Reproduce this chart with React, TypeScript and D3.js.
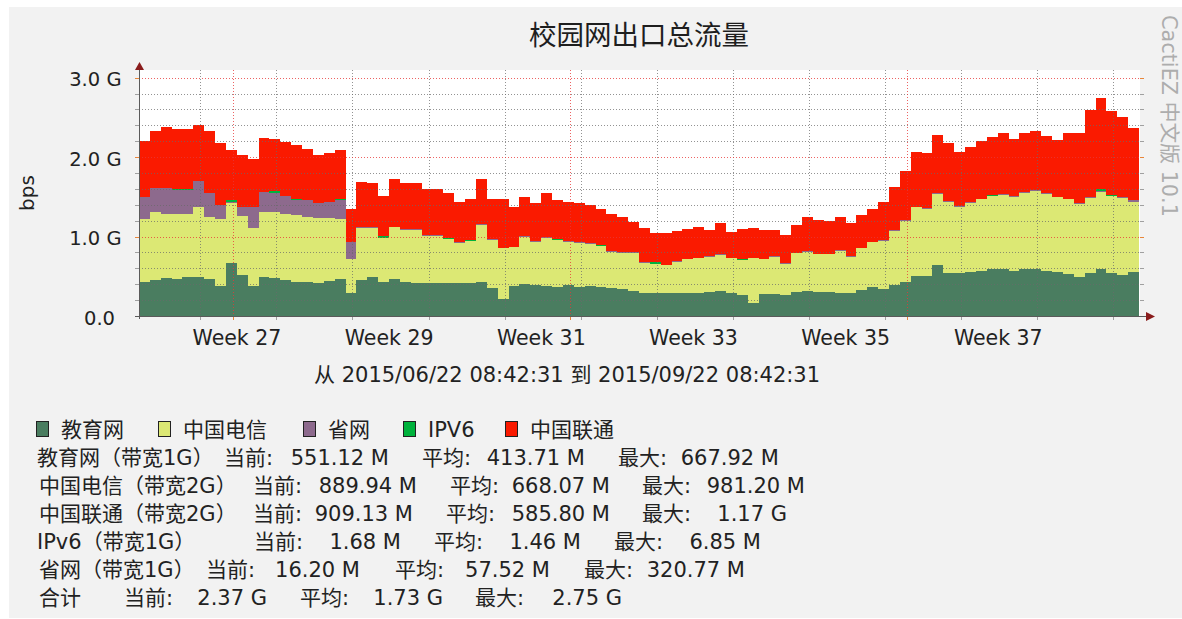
import React from 'react'
import * as d3 from 'd3'

// time window of the graph
const startTime = new Date(2015, 5, 22, 8, 42, 31)
const endTime = new Date(2015, 8, 22, 8, 42, 31)

const seriesNames = ['教育网', '中国电信', '省网', 'IPV6', '中国联通']
const seriesColors = ['#4a7d60', '#dce874', '#8d6a8d', '#00b23c', '#fa1a00']

// daily averages in Mbps, one value per day from the start time
const eduValues = [
  431, 452, 473, 465, 486, 486, 465, 381, 668, 515,
  381, 486, 473, 452, 431, 431, 419, 440, 461, 285,
  452, 486, 431, 461, 431, 411, 411, 411, 411, 411,
  411, 431, 348, 210, 381, 402, 390, 377, 369, 385,
  369, 377, 369, 348, 335, 318, 285, 285, 285, 285,
  285, 285, 297, 314, 285, 264, 168, 277, 272, 260,
  297, 310, 306, 306, 285, 293, 327, 360, 344, 390,
  431, 507, 507, 641, 536, 536, 557, 570, 587, 587,
  566, 587, 587, 566, 549, 524, 494, 536, 590, 536,
  515, 551,
]
const telecomValues = [
  784, 859, 817, 817, 796, 888, 784, 834, 754, 742,
  721, 825, 838, 838, 838, 817, 813, 792, 754, 432,
  662, 628, 545, 654, 649, 670, 595, 595, 557, 511,
  532, 712, 608, 641, 482, 595, 545, 608, 587, 549,
  553, 528, 511, 461, 461, 478, 385, 369, 356, 398,
  427, 440, 448, 452, 440, 440, 557, 436, 473, 394,
  490, 499, 469, 469, 536, 453, 524, 566, 603, 683,
  767, 859, 846, 901, 901, 838, 867, 897, 922, 934,
  934, 964, 981, 970, 943, 943, 922, 955, 975, 972,
  976, 890,
]
const provinceValues = [
  285, 302, 320, 310, 310, 321, 302, 180, 8, 117,
  272, 251, 239, 218, 197, 209, 193, 205, 251, 218,
  10, 8, 6, 8, 12, 12, 8, 8, 7, 6,
  7, 9, 8, 7, 9, 10, 8, 7, 6, 7,
  8, 9, 7, 6, 7, 8, 6, 5, 6, 7,
  8, 6, 7, 9, 8, 7, 6, 7, 8, 12,
  8, 7, 6, 7, 9, 8, 7, 8, 9, 8,
  7, 8, 7, 9, 8, 9, 8, 7, 8, 9,
  8, 9, 12, 8, 7, 8, 9, 10, 10, 9,
  9, 16.2,
]
const ipv6Values = [
  1.3, 1.2, 1.1, 1.2, 1.3, 1.2, 1.1, 1.4, 6.85, 1.3,
  1.2, 1.1, 5.2, 1.2, 1.3, 1.2, 1.1, 1.2, 1.3, 1.0,
  1.2, 1.1, 5.0, 1.2, 1.3, 1.2, 1.1, 1.2, 1.3, 1.2,
  1.1, 1.2, 1.3, 1.0, 1.2, 1.1, 1.2, 1.3, 1.2, 1.1,
  1.2, 1.3, 1.2, 1.1, 1.2, 1.0, 1.3, 5.5, 1.2, 1.1,
  1.2, 1.3, 1.2, 1.1, 1.2, 1.3, 1.0, 1.2, 1.1, 1.3,
  1.2, 1.1, 1.2, 1.3, 1.2, 1.1, 1.2, 1.3, 1.2, 1.1,
  1.2, 1.3, 1.2, 1.1, 1.2, 1.3, 1.2, 1.1, 1.2, 1.3,
  1.2, 1.1, 1.3, 1.2, 1.1, 1.2, 1.3, 1.2, 5.8, 1.2,
  1.3, 1.68,
]
const unicomValues = [
  700, 712, 767, 758, 758, 704, 775, 784, 655, 650,
  599, 683, 670, 683, 691, 649, 599, 616, 628, 411,
  564, 545, 528, 595, 575, 575, 579, 579, 566, 507,
  516, 566, 503, 608, 503, 486, 482, 549, 503, 495,
  495, 482, 453, 465, 444, 382, 436, 386, 398, 382,
  369, 382, 327, 390, 327, 377, 382, 361, 327, 357,
  348, 432, 424, 415, 411, 411, 411, 407, 482, 537,
  616, 692, 692, 725, 734, 683, 696, 725, 729, 767,
  725, 738, 742, 717, 721, 822, 872, 1090, 1165, 1065,
  1006, 909,
]

const yTickValues = [0, 1000, 2000, 3000]
const yTickLabels = ['0.0', '1.0 G', '2.0 G', '3.0 G']
const weekLabels = ['Week 27', 'Week 29', 'Week 31', 'Week 33', 'Week 35', 'Week 37']
const weekLabelDates = [
  '2015-07-01 09:00', '2015-07-15 09:00', '2015-07-29 09:00',
  '2015-08-12 09:00', '2015-08-26 09:00', '2015-09-09 10:00',
]

// legend statistics, as printed under the graph
const statNames = ['教育网（带宽1G）', '中国电信（带宽2G）', '中国联通（带宽2G）', 'IPv6（带宽1G）', '省网（带宽1G）', '合计']
const statCurrent = ['551.12 M', '889.94 M', '909.13 M', '1.68 M', '16.20 M', '2.37 G']
const statAverage = ['413.71 M', '668.07 M', '585.80 M', '1.46 M', '57.52 M', '1.73 G']
const statMaximum = ['667.92 M', '981.20 M', '1.17 G', '6.85 M', '320.77 M', '2.75 G']

// legend text layout (x positions of every column, per row)
const rowNameX = [37, 39, 39, 37, 39, 39]
const curLabelX = [224, 253, 253, 254, 206, 124]
const curEndX = [389, 417, 413, 401, 360, 267]
const avgLabelX = [422, 450, 446, 434, 395, 300]
const avgEndX = [585, 610, 610, 581, 550, 443]
const maxLabelX = [618, 642, 642, 614, 584, 475]
const maxEndX = [779, 805, 787, 761, 745, 622]
const swatchX = [36, 158, 303, 403, 505]

const W = 1182
const H = 619
const plot = { left: 139, right: 1139, top: 70, bottom: 316, topValue: 77.7 }
const FONT = "'DejaVu Sans', 'Noto Sans CJK SC', sans-serif"
const DAY = 86400000

type Row = { date: Date; edu: number; telecom: number; province: number; ipv6: number; unicom: number }
const keys = ['edu', 'telecom', 'province', 'ipv6', 'unicom'] as const

const App: React.FC = () => {
  const x = d3.scaleTime().domain([startTime, endTime]).range([plot.left, plot.right])
  const y = d3.scaleLinear().domain([0, 3000]).range([plot.bottom, plot.topValue])

  const rows: Row[] = eduValues.map((v, i) => ({
    date: new Date(startTime.getTime() + i * DAY),
    edu: v,
    telecom: telecomValues[i],
    province: provinceValues[i],
    ipv6: ipv6Values[i],
    unicom: unicomValues[i],
  }))
  // closing point so the last step reaches the end of the window
  rows.push({ ...rows[rows.length - 1], date: endTime })

  const stacked = d3.stack<Row>().keys(keys as unknown as string[])(rows)
  const area = d3
    .area<d3.SeriesPoint<Row>>()
    .x((d) => x(d.data.date))
    .y0((d) => y(d[0]))
    .y1((d) => y(d[1]))
    .curve(d3.curveStepAfter)

  const crisp = (v: number) => Math.round(v) + 0.5

  const gridValues = d3.range(200, 3001, 200)
  const minorY = gridValues.filter((v) => v % 1000 !== 0)
  const majorY = gridValues.filter((v) => v % 1000 === 0)
  const weekLines = d3.timeSunday.range(startTime, endTime)
  const monthLines = d3.timeMonth.range(startTime, endTime)
  const parseLabel = d3.timeParse('%Y-%m-%d %H:%M')
  const fmt = d3.timeFormat('%Y/%m/%d %H:%M:%S')

  const minorColor = 'rgba(105,105,105,0.72)'
  const majorColor = 'rgba(232,55,55,0.78)'
  const tickMinor = '#a0a0a0'
  const tickMajor = '#e8863a'

  const ipv6Layer = stacked[3]

  return (
    <svg
      width={W}
      height={H}
      style={{ position: 'absolute', left: 0, top: 0, display: 'block' }}
      fontFamily={FONT}
    >
      <rect width={W} height={H} fill="#ffffff" />
      <rect x={9} y={7} width={W - 9} height={611} fill="#f2f2f2" />

      {/* title */}
      <text x={639} y={45} fontSize={27.5} textAnchor="middle" fill="#1e1e1e">
        校园网出口总流量
      </text>

      {/* watermark */}
      <text
        transform="translate(1162,15) rotate(90)"
        fontSize={20.8}
        fill="#adadad"
      >
        CactiEZ 中文版 10.1
      </text>

      {/* canvas */}
      <rect
        x={plot.left}
        y={plot.top}
        width={plot.right - plot.left + 1}
        height={plot.bottom - plot.top}
        fill="#ffffff"
      />

      {/* stacked areas */}
      <g shapeRendering="crispEdges">
        {stacked.map((layer, i) => (
          <path key={layer.key} d={area(layer) || ''} fill={seriesColors[i]} />
        ))}
        {ipv6Layer.slice(0, -1).map((d, i) =>
          ipv6Values[i] > 4 ? (
            <rect
              key={i}
              x={x(d.data.date)}
              y={y(d[1]) - 1.5}
              width={x(rows[i + 1].date) - x(d.data.date)}
              height={2}
              fill={seriesColors[3]}
            />
          ) : null,
        )}
      </g>

      {/* grid */}
      <g shapeRendering="crispEdges" strokeWidth={1} strokeDasharray="1,2">
        {minorY.map((v) => (
          <line key={'hy' + v} x1={plot.left} x2={plot.right + 4} y1={crisp(y(v))} y2={crisp(y(v))} stroke={minorColor} />
        ))}
        {weekLines.map((d) => (
          <line key={'vw' + d.getTime()} x1={crisp(x(d))} x2={crisp(x(d))} y1={plot.top} y2={plot.bottom} stroke={minorColor} />
        ))}
        {majorY.map((v) => (
          <line key={'my' + v} x1={plot.left} x2={plot.right + 4} y1={crisp(y(v))} y2={crisp(y(v))} stroke={majorColor} />
        ))}
        {monthLines.map((d) => (
          <line key={'vm' + d.getTime()} x1={crisp(x(d))} x2={crisp(x(d))} y1={plot.top} y2={plot.bottom} stroke={majorColor} />
        ))}
      </g>

      {/* tick marks */}
      <g shapeRendering="crispEdges" strokeWidth={1}>
        {gridValues.map((v) => (
          <g key={'ty' + v} stroke={v % 1000 === 0 ? tickMajor : tickMinor}>
            <line x1={plot.left - 4} x2={plot.left} y1={crisp(y(v))} y2={crisp(y(v))} />
            <line x1={plot.right + 1} x2={plot.right + 5} y1={crisp(y(v))} y2={crisp(y(v))} />
          </g>
        ))}
        {weekLines.map((d) => (
          <line key={'tw' + d.getTime()} x1={crisp(x(d))} x2={crisp(x(d))} y1={plot.bottom} y2={plot.bottom + 4} stroke={tickMinor} />
        ))}
        {monthLines.map((d) => (
          <line key={'tm' + d.getTime()} x1={crisp(x(d))} x2={crisp(x(d))} y1={plot.bottom} y2={plot.bottom + 4} stroke={tickMajor} />
        ))}
      </g>

      {/* axes */}
      <g shapeRendering="crispEdges" stroke="#5a5a5a" strokeWidth={1}>
        <line x1={plot.left + 0.5} x2={plot.left + 0.5} y1={plot.top - 2} y2={plot.bottom + 3} />
        <line x1={plot.left - 4} x2={plot.right + 8} y1={plot.bottom + 0.5} y2={plot.bottom + 0.5} />
      </g>
      <polygon
        points={`${plot.left + 0.5},${plot.top - 8} ${plot.left - 4},${plot.top} ${plot.left + 5},${plot.top}`}
        fill="#8a1c1c"
      />
      <polygon
        points={`${plot.right + 16},${plot.bottom + 0.5} ${plot.right + 7},${plot.bottom - 4} ${plot.right + 7},${plot.bottom + 5}`}
        fill="#8a1c1c"
      />

      {/* y labels */}
      <g fontSize={19.5} fill="#222">
        {yTickValues.map((v, i) => (
          <text
            key={'yl' + v}
            x={i === 0 ? 115 : 121.5}
            y={y(v) + 8.5}
            textAnchor="end"
          >
            {yTickLabels[i]}
          </text>
        ))}
      </g>
      <text
        transform={`translate(34,${(plot.top + plot.bottom) / 2}) rotate(-90)`}
        fontSize={20}
        textAnchor="middle"
        fill="#222"
      >
        bps
      </text>

      {/* x labels */}
      <g fontSize={20.5} fill="#222" textAnchor="middle">
        {weekLabels.map((t, i) => (
          <text key={t} x={x(parseLabel(weekLabelDates[i]) as Date)} y={345}>
            {t}
          </text>
        ))}
      </g>
      <text x={314} y={382} fontSize={21} fill="#222">
        {`从 ${fmt(startTime)} 到 ${fmt(endTime)}`}
      </text>

      {/* legend */}
      <g fontSize={21} fill="#222">
        {seriesNames.map((name, i) => (
          <g key={name}>
            <rect
              x={swatchX[i] + 0.5}
              y={421.5}
              width={12}
              height={15}
              fill={seriesColors[i]}
              stroke="#222"
              strokeWidth={1}
              shapeRendering="crispEdges"
            />
            <text x={swatchX[i] + 25} y={437}>
              {name}
            </text>
          </g>
        ))}
        {statNames.map((name, r) => {
          const by = 465 + r * 28
          return (
            <g key={name}>
              <text x={rowNameX[r]} y={by}>{name}</text>
              <text x={curLabelX[r]} y={by}>当前:</text>
              <text x={curEndX[r]} y={by} textAnchor="end">{statCurrent[r]}</text>
              <text x={avgLabelX[r]} y={by}>平均:</text>
              <text x={avgEndX[r]} y={by} textAnchor="end">{statAverage[r]}</text>
              <text x={maxLabelX[r]} y={by}>最大:</text>
              <text x={maxEndX[r]} y={by} textAnchor="end">{statMaximum[r]}</text>
            </g>
          )
        })}
      </g>
    </svg>
  )
}

export default App
